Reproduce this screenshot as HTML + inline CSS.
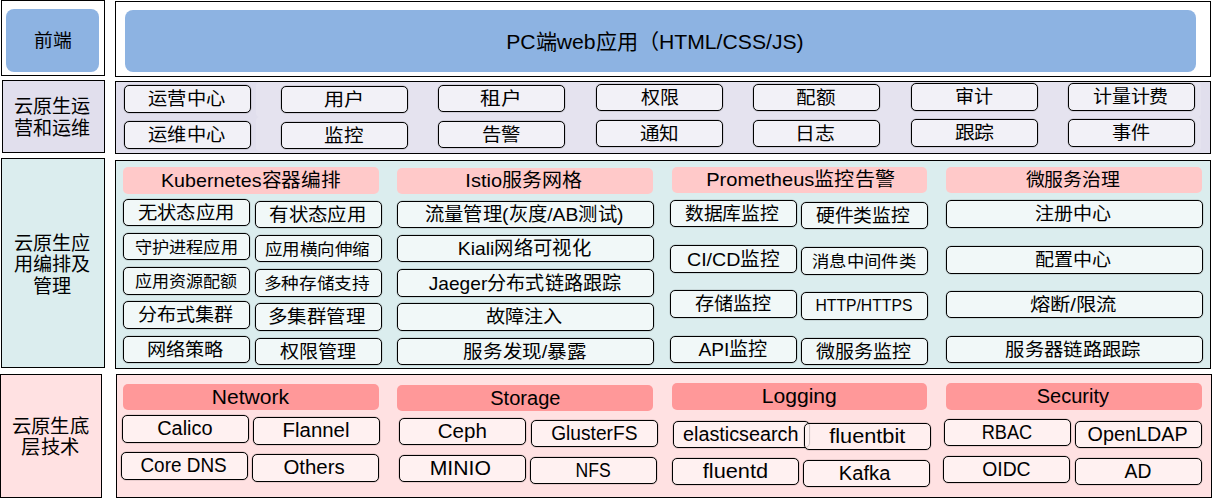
<!DOCTYPE html>
<html lang="zh-CN"><head><meta charset="utf-8"><title>云原生架构</title><style>
*{margin:0;padding:0;box-sizing:border-box}
html,body{width:1212px;height:498px;overflow:hidden;background:#fff}
body{position:relative;font-family:"Liberation Sans",sans-serif;color:#000}
div{position:absolute}
.t{display:inline-block;line-height:1;white-space:nowrap}
.frame{border:1px solid #000}
.r1{background:#fff}
.r2{background:#e1dfed}
.r3{background:#dbedee}
.r4{background:#ffe1e2}
.blue,.lab,.btn,.h3,.h4{display:flex;align-items:center;justify-content:center;text-align:center}
.blue{background:#8db3e2;border-radius:8px}
.btn{border:1px solid #000;border-radius:5px;box-shadow:0 0 0 0.5px rgba(0,0,0,0.18)}
.b2{background:#f2f1f7}
.b3{background:#f1f8f8}
.b4{background:#fff1f1}
.h3{background:#ffc9c9;border-radius:5px}
.h4{background:#ff9899;border-radius:5px}
.glow{background:rgba(255,255,255,0.15);border-radius:4px}
</style></head><body>
<div class="frame r1" style="left:1px;top:0px;width:104px;height:76px"></div>
<div class="frame r1" style="left:115px;top:1px;width:1096px;height:76px"></div>
<div class="frame r2" style="left:2px;top:80px;width:103px;height:73px"></div>
<div class="frame r2" style="left:115px;top:81px;width:1096px;height:73px"></div>
<div class="frame r3" style="left:1px;top:158px;width:104px;height:210px"></div>
<div class="frame r3" style="left:115px;top:160px;width:1096px;height:209px"></div>
<div class="frame r4" style="left:0px;top:374px;width:102px;height:124px"></div>
<div class="frame r4" style="left:116px;top:374px;width:1096px;height:124px"></div>
<div class="glow" style="left:256px;top:82px;width:945px;height:35px"></div>
<div class="glow" style="left:256px;top:117px;width:945px;height:34px"></div>
<div class="blue" style="left:6px;top:9px;width:93px;height:63px"><span class="t" id="t0" style="font-size:18.00px;transform:translate(-0.40px,0.00px) scaleX(1.0449)">前端</span></div>
<div class="blue" style="left:125px;top:10px;width:1071px;height:62px"><span class="t" id="t1" style="font-size:21.00px;transform:translate(-5.70px,0.00px) scaleX(1.0075)">PC端web应用（HTML/CSS/JS)</span></div>
<div class="lab" style="left:2px;top:80px;width:103px;height:73px"><span class="t" id="t2" style="font-size:19.00px;line-height:21.5px;transform:translate(-2.20px,1.00px) scaleX(1.0054)">云原生运<br>营和运维</span></div>
<div class="btn b2" style="left:124px;top:85px;width:127px;height:28px"><span class="t" id="t3" style="font-size:18.00px;transform:translate(-1.30px,0.00px) scaleX(1.0700)">运营中心</span></div>
<div class="btn b2" style="left:124px;top:121px;width:127px;height:28px"><span class="t" id="t4" style="font-size:18.00px;transform:translate(-1.30px,0.00px) scaleX(1.0708)">运维中心</span></div>
<div class="btn b2" style="left:281px;top:86px;width:127px;height:27px"><span class="t" id="t5" style="font-size:18.00px;transform:translate(-0.60px,0.00px) scaleX(1.1200)">用户</span></div>
<div class="btn b2" style="left:281px;top:122px;width:127px;height:27px"><span class="t" id="t6" style="font-size:18.00px;transform:translate(-1.10px,0.00px) scaleX(1.0863)">监控</span></div>
<div class="btn b2" style="left:438px;top:85px;width:127px;height:27px"><span class="t" id="t7" style="font-size:18.00px;transform:translate(-1.30px,0.00px) scaleX(1.1510)">租户</span></div>
<div class="btn b2" style="left:438px;top:121px;width:127px;height:27px"><span class="t" id="t8" style="font-size:18.00px;transform:translate(-0.60px,0.00px) scaleX(1.0795)">告警</span></div>
<div class="btn b2" style="left:596px;top:84px;width:127px;height:27px"><span class="t" id="t9" style="font-size:18.00px;transform:translate(0.00px,0.00px) scaleX(1.0571)">权限</span></div>
<div class="btn b2" style="left:596px;top:120px;width:127px;height:27px"><span class="t" id="t10" style="font-size:18.00px;transform:translate(-0.50px,0.00px) scaleX(1.0889)">通知</span></div>
<div class="btn b2" style="left:753px;top:84px;width:127px;height:27px"><span class="t" id="t11" style="font-size:18.00px;transform:translate(-0.90px,0.00px) scaleX(1.0898)">配额</span></div>
<div class="btn b2" style="left:753px;top:120px;width:127px;height:27px"><span class="t" id="t12" style="font-size:18.00px;transform:translate(-1.70px,0.00px) scaleX(1.1026)">日志</span></div>
<div class="btn b2" style="left:911px;top:83px;width:127px;height:28px"><span class="t" id="t13" style="font-size:18.00px;transform:translate(-1.40px,0.00px) scaleX(1.0579)">审计</span></div>
<div class="btn b2" style="left:911px;top:119px;width:127px;height:28px"><span class="t" id="t14" style="font-size:18.00px;transform:translate(-0.60px,0.00px) scaleX(1.1054)">跟踪</span></div>
<div class="btn b2" style="left:1068px;top:83px;width:127px;height:28px"><span class="t" id="t15" style="font-size:18.00px;transform:translate(-1.50px,0.00px) scaleX(1.0544)">计量计费</span></div>
<div class="btn b2" style="left:1068px;top:119px;width:127px;height:28px"><span class="t" id="t16" style="font-size:18.00px;transform:translate(-0.80px,0.00px) scaleX(1.0604)">事件</span></div>
<div class="lab" style="left:1px;top:158px;width:104px;height:210px"><span class="t" id="t17" style="font-size:19.00px;line-height:21.5px;transform:translate(-1.00px,1.50px) scaleX(1.0058)">云原生应<br>用编排及<br>管理</span></div>
<div class="h3" style="left:123px;top:167px;width:256px;height:27px"><span class="t" id="t18" style="font-size:19.00px;transform:translate(0.00px,0.00px) scaleX(1.0349)">Kubernetes容器编排</span></div>
<div class="h3" style="left:397px;top:167.5px;width:256px;height:26px"><span class="t" id="t19" style="font-size:19.00px;transform:translate(-1.70px,0.00px) scaleX(1.0535)">Istio服务网格</span></div>
<div class="h3" style="left:672px;top:167px;width:255px;height:25.5px"><span class="t" id="t20" style="font-size:19.00px;transform:translate(1.20px,0.00px) scaleX(1.0568)">Prometheus监控告警</span></div>
<div class="h3" style="left:946px;top:167px;width:256px;height:25.5px"><span class="t" id="t21" style="font-size:18.00px;transform:translate(-1.20px,0.00px) scaleX(1.0489)">微服务治理</span></div>
<div class="btn b3" style="left:123px;top:199px;width:127px;height:27px"><span class="t" id="t22" style="font-size:18.00px;transform:translate(-1.10px,0.00px) scaleX(1.0754)">无状态应用</span></div>
<div class="btn b3" style="left:123px;top:233px;width:127px;height:27px"><span class="t" id="t23" style="font-size:16.00px;transform:translate(-0.70px,1.00px) scaleX(1.0735)">守护进程应用</span></div>
<div class="btn b3" style="left:123px;top:267px;width:127px;height:28px"><span class="t" id="t24" style="font-size:16.00px;transform:translate(-1.10px,1.00px) scaleX(1.0649)">应用资源配额</span></div>
<div class="btn b3" style="left:123px;top:301px;width:127px;height:28px"><span class="t" id="t25" style="font-size:18.00px;transform:translate(-1.80px,0.00px) scaleX(1.0585)">分布式集群</span></div>
<div class="btn b3" style="left:123px;top:336px;width:127px;height:27px"><span class="t" id="t26" style="font-size:18.00px;transform:translate(-1.70px,0.00px) scaleX(1.0650)">网络策略</span></div>
<div class="btn b3" style="left:255px;top:201px;width:127px;height:27px"><span class="t" id="t27" style="font-size:18.00px;transform:translate(-1.40px,0.00px) scaleX(1.0777)">有状态应用</span></div>
<div class="btn b3" style="left:255px;top:235px;width:127px;height:27px"><span class="t" id="t28" style="font-size:16.00px;transform:translate(-1.80px,1.00px) scaleX(1.0917)">应用横向伸缩</span></div>
<div class="btn b3" style="left:255px;top:269px;width:127px;height:28px"><span class="t" id="t29" style="font-size:16.00px;transform:translate(-2.30px,1.00px) scaleX(1.1018)">多种存储支持</span></div>
<div class="btn b3" style="left:255px;top:303px;width:127px;height:28px"><span class="t" id="t30" style="font-size:18.00px;transform:translate(-2.60px,0.00px) scaleX(1.0806)">多集群管理</span></div>
<div class="btn b3" style="left:255px;top:338px;width:127px;height:27px"><span class="t" id="t31" style="font-size:18.00px;transform:translate(-0.80px,0.00px) scaleX(1.0577)">权限管理</span></div>
<div class="btn b3" style="left:397px;top:201px;width:257px;height:27px"><span class="t" id="t32" style="font-size:19.00px;transform:translate(-1.50px,0.00px) scaleX(1.0176)">流量管理(灰度/AB测试)</span></div>
<div class="btn b3" style="left:397px;top:235px;width:257px;height:27px"><span class="t" id="t33" style="font-size:19.00px;transform:translate(-1.10px,0.00px) scaleX(1.0171)">Kiali网络可视化</span></div>
<div class="btn b3" style="left:397px;top:269px;width:257px;height:28px"><span class="t" id="t34" style="font-size:19.00px;transform:translate(-0.60px,0.00px) scaleX(1.0063)">Jaeger分布式链路跟踪</span></div>
<div class="btn b3" style="left:397px;top:303px;width:257px;height:28px"><span class="t" id="t35" style="font-size:18.00px;transform:translate(-1.70px,0.00px) scaleX(1.0646)">故障注入</span></div>
<div class="btn b3" style="left:397px;top:338px;width:257px;height:27px"><span class="t" id="t36" style="font-size:18.00px;transform:translate(-0.60px,0.00px) scaleX(1.0877)">服务发现/暴露</span></div>
<div class="btn b3" style="left:670px;top:200px;width:127px;height:27px"><span class="t" id="t37" style="font-size:18.00px;transform:translate(-2.20px,0.00px) scaleX(1.0451)">数据库监控</span></div>
<div class="btn b3" style="left:670px;top:245px;width:127px;height:28px"><span class="t" id="t38" style="font-size:19.00px;transform:translate(-0.50px,0.00px) scaleX(1.0341)">CI/CD监控</span></div>
<div class="btn b3" style="left:670px;top:290px;width:127px;height:28px"><span class="t" id="t39" style="font-size:18.00px;transform:translate(-1.00px,0.00px) scaleX(1.0621)">存储监控</span></div>
<div class="btn b3" style="left:670px;top:336px;width:127px;height:27px"><span class="t" id="t40" style="font-size:19.00px;transform:translate(-0.40px,0.00px) scaleX(1.0064)">API监控</span></div>
<div class="btn b3" style="left:801px;top:202px;width:127px;height:27px"><span class="t" id="t41" style="font-size:18.00px;transform:translate(-2.20px,0.00px) scaleX(1.0451)">硬件类监控</span></div>
<div class="btn b3" style="left:801px;top:247px;width:127px;height:28px"><span class="t" id="t42" style="font-size:16.00px;transform:translate(-0.90px,1.00px) scaleX(1.0824)">消息中间件类</span></div>
<div class="btn b3" style="left:801px;top:292px;width:127px;height:28px"><span class="t" id="t43" style="font-size:17.00px;transform:translate(-0.50px,-0.70px) scaleX(0.9243)">HTTP/HTTPS</span></div>
<div class="btn b3" style="left:801px;top:338px;width:127px;height:27px"><span class="t" id="t44" style="font-size:18.00px;transform:translate(-1.70px,0.00px) scaleX(1.0556)">微服务监控</span></div>
<div class="btn b3" style="left:946px;top:200px;width:257px;height:28px"><span class="t" id="t45" style="font-size:18.00px;transform:translate(-1.80px,0.00px) scaleX(1.0567)">注册中心</span></div>
<div class="btn b3" style="left:946px;top:246px;width:257px;height:28px"><span class="t" id="t46" style="font-size:18.00px;transform:translate(-1.80px,0.00px) scaleX(1.0567)">配置中心</span></div>
<div class="btn b3" style="left:946px;top:291px;width:257px;height:27px"><span class="t" id="t47" style="font-size:18.00px;transform:translate(-1.30px,0.00px) scaleX(1.1310)">熔断/限流</span></div>
<div class="btn b3" style="left:946px;top:336px;width:257px;height:27px"><span class="t" id="t48" style="font-size:18.00px;transform:translate(-2.00px,0.00px) scaleX(1.0761)">服务器链路跟踪</span></div>
<div class="lab" style="left:0px;top:374px;width:102px;height:124px"><span class="t" id="t49" style="font-size:19.00px;line-height:21.5px;transform:translate(-0.80px,1.00px) scaleX(1.0166)">云原生底<br>层技术</span></div>
<div class="h4" style="left:123px;top:384px;width:256px;height:26px"><span class="t" id="t50" style="font-size:20.00px;transform:translate(-0.30px,0.00px) scaleX(1.0523)">Network</span></div>
<div class="h4" style="left:397px;top:385px;width:256px;height:26px"><span class="t" id="t51" style="font-size:20.00px;transform:translate(0.30px,0.00px) scaleX(1.0032)">Storage</span></div>
<div class="h4" style="left:672px;top:383px;width:255px;height:26.5px"><span class="t" id="t52" style="font-size:20.00px;transform:translate(-0.30px,0.00px) scaleX(1.0554)">Logging</span></div>
<div class="h4" style="left:946px;top:383px;width:256px;height:26.5px"><span class="t" id="t53" style="font-size:20.00px;transform:translate(-1.10px,0.00px)">Security</span></div>
<div class="btn b4" style="left:122px;top:415px;width:127px;height:28px"><span class="t" id="t54" style="font-size:20.00px;transform:translate(-0.90px,-1.00px) scaleX(0.9964)">Calico</span></div>
<div class="btn b4" style="left:253px;top:417px;width:127px;height:28px"><span class="t" id="t55" style="font-size:20.00px;transform:translate(-0.80px,-1.00px) scaleX(1.0191)">Flannel</span></div>
<div class="btn b4" style="left:121px;top:452px;width:127px;height:28px"><span class="t" id="t56" style="font-size:20.00px;transform:translate(-1.00px,-1.00px) scaleX(0.9462)">Core DNS</span></div>
<div class="btn b4" style="left:252px;top:454px;width:127px;height:28px"><span class="t" id="t57" style="font-size:20.00px;transform:translate(-1.00px,-1.00px) scaleX(1.0208)">Others</span></div>
<div class="btn b4" style="left:399px;top:418px;width:127px;height:27px"><span class="t" id="t58" style="font-size:20.00px;transform:translate(-0.60px,-1.00px) scaleX(1.0269)">Ceph</span></div>
<div class="btn b4" style="left:531px;top:420px;width:127px;height:27px"><span class="t" id="t59" style="font-size:20.00px;transform:translate(0.30px,-1.00px) scaleX(0.9574)">GlusterFS</span></div>
<div class="btn b4" style="left:399px;top:455px;width:127px;height:27px"><span class="t" id="t60" style="font-size:20.00px;transform:translate(-2.60px,-1.00px) scaleX(1.0576)">MINIO</span></div>
<div class="btn b4" style="left:530px;top:457px;width:127px;height:27px"><span class="t" id="t61" style="font-size:20.00px;transform:translate(-0.90px,-1.00px) scaleX(0.8794)">NFS</span></div>
<div class="btn b4" style="left:673px;top:421px;width:137px;height:27px"><span class="t" id="t62" style="font-size:20.00px;transform:translate(-0.60px,-1.00px) scaleX(0.9897)">elasticsearch</span></div>
<div class="btn b4" style="left:804px;top:423px;width:127px;height:27px;background:rgba(255,241,241,0.82)"><span class="t" id="t63" style="font-size:20.00px;transform:translate(0.20px,-1.00px) scaleX(1.0859)">fluentbit</span></div>
<div class="btn b4" style="left:672px;top:458px;width:127px;height:27px"><span class="t" id="t64" style="font-size:20.00px;transform:translate(0.40px,-1.00px) scaleX(1.0883)">fluentd</span></div>
<div class="btn b4" style="left:803px;top:460px;width:127px;height:27px"><span class="t" id="t65" style="font-size:20.00px;transform:translate(-2.00px,-1.00px) scaleX(1.0088)">Kafka</span></div>
<div class="btn b4" style="left:944px;top:419px;width:127px;height:27px"><span class="t" id="t66" style="font-size:20.00px;transform:translate(-0.80px,-1.00px) scaleX(0.9096)">RBAC</span></div>
<div class="btn b4" style="left:1075px;top:421px;width:127px;height:27px"><span class="t" id="t67" style="font-size:20.00px;transform:translate(-1.00px,-1.00px) scaleX(0.9880)">OpenLDAP</span></div>
<div class="btn b4" style="left:943px;top:456px;width:127px;height:27px"><span class="t" id="t68" style="font-size:20.00px;transform:translate(-0.60px,-1.00px) scaleX(0.9676)">OIDC</span></div>
<div class="btn b4" style="left:1075px;top:458px;width:127px;height:27px"><span class="t" id="t69" style="font-size:20.00px;transform:translate(-0.90px,-1.00px) scaleX(0.9644)">AD</span></div>
</body></html>
